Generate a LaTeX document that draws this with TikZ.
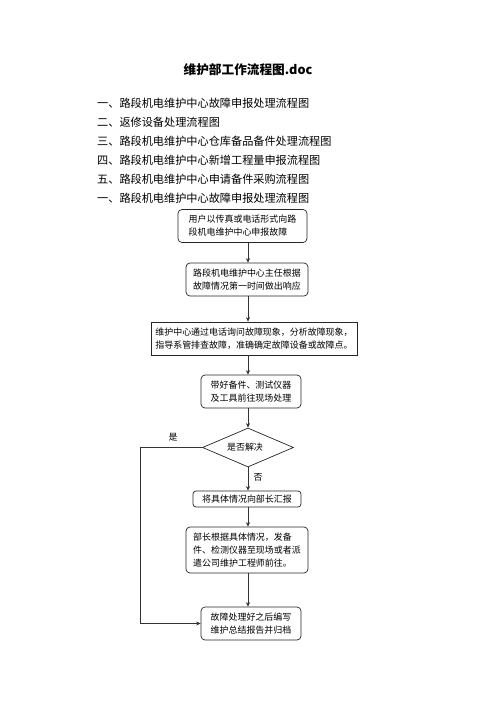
\documentclass[tikz,border=0pt]{standalone}
\usepackage{fontspec}
\setmainfont{Noto Sans CJK SC}
\newfontfamily\cjk{Noto Sans CJK SC}
\usetikzlibrary{arrows.meta,shapes.geometric}
\tikzset{
  boxr/.style={draw=black!85,line width=0.7bp,rounded corners=4bp,inner sep=0pt,align=left,font=\fontsize{9}{13}\selectfont},
  boxs/.style={draw=black!85,line width=0.7bp,inner sep=0pt,align=left,font=\fontsize{9}{13}\selectfont},
  arr/.style={draw=black!80,line width=0.7bp,-{Stealth[length=4.5bp,width=4bp]}},
  lst/.style={anchor=west,inner sep=0pt,font=\fontsize{11.2}{13}\selectfont},
  lbl/.style={inner sep=0pt,font=\fontsize{9}{11}\selectfont}
}
\begin{document}
\begin{tikzpicture}[x=1bp,y=-1bp]
\useasboundingbox[fill=white] (0,0) rectangle (496,702);
\node[inner sep=0pt,font=\fontsize{12.7}{14}\selectfont\bfseries] (title) at (248,70) {维护部工作流程图.doc};
\node[lst] (l1) at (97,103) {一、路段机电维护中心故障申报处理流程图};
\node[lst] (l2) at (97,122) {二、返修设备处理流程图};
\node[lst] (l3) at (97,141) {三、路段机电维护中心仓库备品备件处理流程图};
\node[lst] (l4) at (97,160) {四、路段机电维护中心新增工程量申报流程图};
\node[lst] (l5) at (97,179) {五、路段机电维护中心申请备件采购流程图};
\node[lst] (l6) at (97,198) {一、路段机电维护中心故障申报处理流程图};

\node[boxr,minimum width=129bp,minimum height=33bp] (b1) at (242.5,226) {用户以传真或电话形式向路\\段机电维护中心申报故障};
\node[boxr,minimum width=122bp,minimum height=33bp] (b2) at (247,279.5) {路段机电维护中心主任根据\\故障情况第一时间做出响应};
\node[boxs,minimum width=206bp,minimum height=33bp] (b3) at (254,338.5) {维护中心通过电话询问故障现象，分析故障现象，\\指导系管排查故障，准确确定故障设备或故障点。};
\node[boxr,minimum width=100bp,minimum height=33bp] (b4) at (251,391.5) {带好备件、测试仪器\\及工具前往现场处理};
\node[diamond,draw=black!85,line width=0.7bp,inner sep=0pt,minimum width=91bp,minimum height=39bp,aspect=2.33,font=\fontsize{9}{11}\selectfont] (d) at (248,447.5) {};
\node[lbl] (dt) at (245,447.5) {是否解决};
\node[boxr,rounded corners=3bp,minimum width=108bp,minimum height=16bp] (b5) at (247,499) {将具体情况向部长汇报};
\node[boxr,minimum width=122bp,minimum height=46bp] (b6) at (247,550) {部长根据具体情况，发备\\件、检测仪器至现场或者派\\遣公司维护工程师前往。};
\node[boxr,minimum width=100bp,minimum height=33bp] (b7) at (251,623.5) {故障处理好之后编写\\维护总结报告并归档};

\node[lbl] (yes) at (173,437) {是};
\node[lbl] (no) at (258,477) {否};
\coordinate (lp) at (140,447.5);

\draw[arr] (b1.south -| d.center) -- (b2.north -| d.center);
\draw[arr] (b2.south -| d.center) -- (b3.north -| d.center);
\draw[arr] (b3.south -| d.center) -- (b4.north -| d.center);
\draw[arr] (b4.south -| d.center) -- (d.north);
\draw[arr] (d.south) -- (b5.north -| d.center);
\draw[arr] (b5.south -| d.center) -- (b6.north -| d.center);
\draw[arr] (b6.south -| d.center) -- (b7.north -| d.center);
\draw[arr] (d.west) -- (lp) |- (b7.west);
\end{tikzpicture}
\end{document}
